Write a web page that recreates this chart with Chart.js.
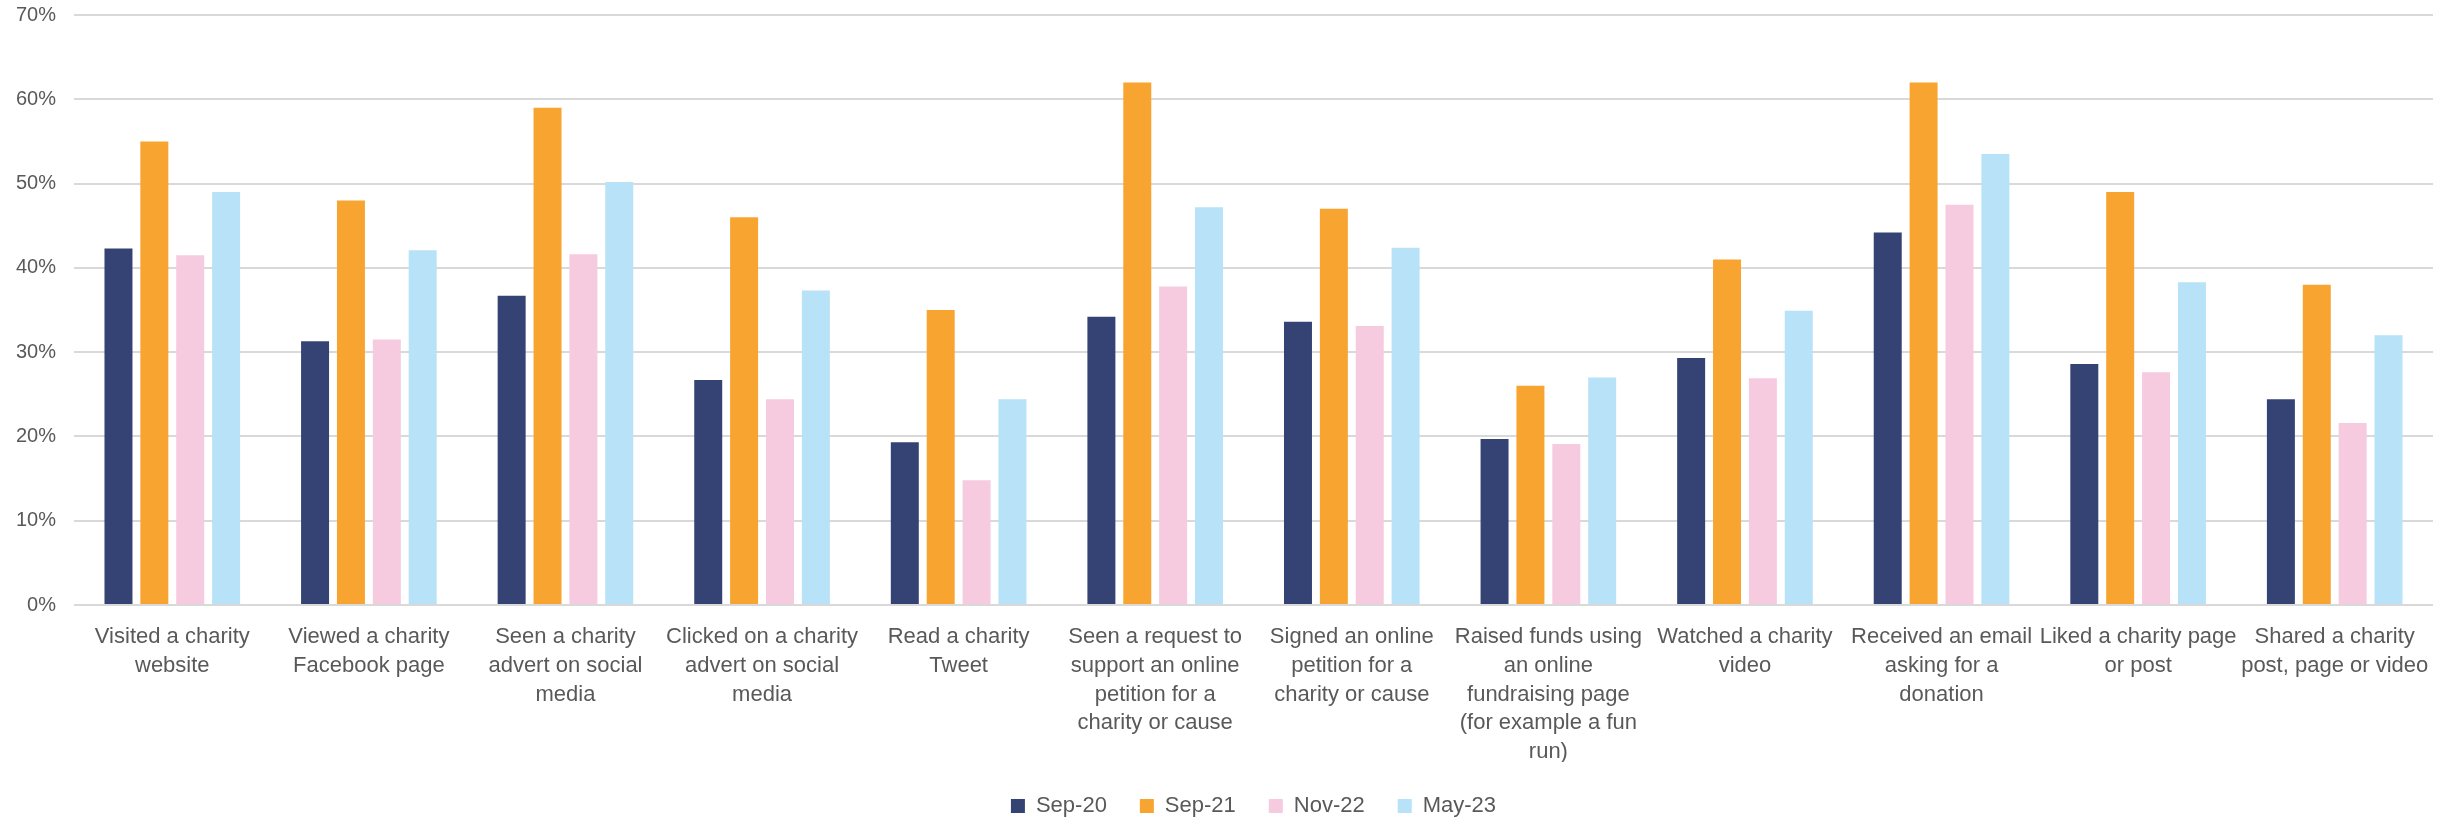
<!DOCTYPE html>
<html>
<head>
<meta charset="utf-8">
<script src="https://cdn.jsdelivr.net/npm/chart.js@4.4.1/dist/chart.umd.min.js"></script>
<style>
  html, body { margin: 0; padding: 0; background: #ffffff; }
  #wrap { width: 2450px; height: 819px; }
</style>
</head>
<body>
<div id="wrap"><canvas id="chart" width="2450" height="819"></canvas></div>
<script>
// Online charity activities, share of respondents (%) per survey wave
const categories = [
  ["Visited a charity", "website"],
  ["Viewed a charity", "Facebook page"],
  ["Seen a charity", "advert on social", "media"],
  ["Clicked on a charity", "advert on social", "media"],
  ["Read a charity", "Tweet"],
  ["Seen a request to", "support an online", "petition for a", "charity or cause"],
  ["Signed an online", "petition for a", "charity or cause"],
  ["Raised funds using", "an online", "fundraising page", "(for example a fun", "run)"],
  ["Watched a charity", "video"],
  ["Received an email", "asking for a", "donation"],
  ["Liked a charity page", "or post"],
  ["Shared a charity", "post, page or video"]
];

const seriesNames = ["Sep-20", "Sep-21", "Nov-22", "May-23"];

const sep20 = [42.3, 31.3, 36.7, 26.7, 19.3, 34.2, 33.6, 19.7, 29.3, 44.2, 28.6, 24.4];
const sep21 = [55, 48, 59, 46, 35, 62, 47, 26, 41, 62, 49, 38];
const nov22 = [41.5, 31.5, 41.6, 24.4, 14.8, 37.8, 33.1, 19.1, 26.9, 47.5, 27.6, 21.6];
const may23 = [49, 42.1, 50.2, 37.3, 24.4, 47.2, 42.4, 27, 34.9, 53.5, 38.3, 32];

const yTicks = [0, 10, 20, 30, 40, 50, 60, 70];

const colors = ["#344373", "#F8A430", "#F6CADF", "#B7E2F7"];
const seriesValues = [sep20, sep21, nov22, may23];

const FONT = "'Liberation Sans', Arial, sans-serif";
const TEXT = "#595959";

new Chart(document.getElementById("chart"), {
  type: "bar",
  data: {
    labels: categories,
    datasets: seriesNames.map((name, i) => ({
      label: name,
      data: seriesValues[i],
      backgroundColor: colors[i],
      borderWidth: 0,
      categoryPercentage: 0.73,
      barPercentage: 0.78
    }))
  },
  options: {
    responsive: false,
    animation: false,
    devicePixelRatio: 1,
    layout: { padding: { top: 15, right: 17, bottom: -8, left: 0 } },
    plugins: {
      tooltip: { enabled: false },
      legend: {
        position: "bottom",
        fullSize: false,
        labels: {
          boxWidth: 14,
          boxHeight: 14,
          padding: 33,
          color: TEXT,
          font: { family: FONT, size: 22 }
        }
      }
    },
    scales: {
      x: {
        grid: { display: false, drawTicks: false },
        border: { display: false },
        ticks: {
          autoSkip: false,
          maxRotation: 0,
          minRotation: 0,
          padding: 18,
          color: TEXT,
          font: { family: FONT, size: 22, lineHeight: 1.3 }
        },
        afterFit: (scale) => { scale.height = 157; }
      },
      y: {
        min: 0,
        max: 70,
        afterBuildTicks: (scale) => { scale.ticks = yTicks.map(v => ({ value: v })); },
        grid: { color: "#D9D9D9", lineWidth: 2, drawTicks: false },
        border: { display: false },
        ticks: {
          padding: 18,
          color: TEXT,
          font: { family: FONT, size: 20 },
          callback: (v) => v + "%"
        },
        afterFit: (scale) => {
          scale.width = 74;
          scale.paddingTop = 0;
          scale.paddingBottom = 0;
        }
      }
    }
  }
});
</script>
</body>
</html>
